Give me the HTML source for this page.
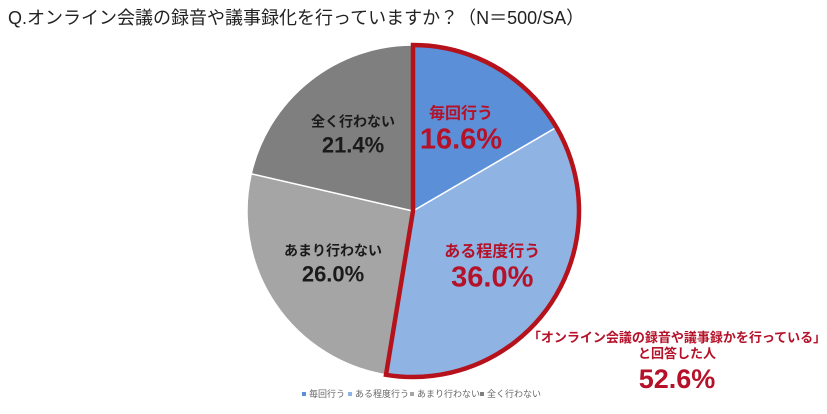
<!DOCTYPE html>
<html><head><meta charset="utf-8">
<style>
html,body{margin:0;padding:0;background:#fff;}
body{width:827px;height:409px;overflow:hidden;font-family:"Liberation Sans","Noto Sans CJK JP",sans-serif;}
</style></head>
<body>
<svg id="chart" width="827" height="409" xmlns="http://www.w3.org/2000/svg" font-family="Liberation Sans, Noto Sans CJK JP, sans-serif">
<text x="8" y="24" font-size="18" fill="#222">Q.オンライン会議の録音や議事録化を行っていますか？（N＝500/SA）</text>
<g id="slices"></g>
<g id="labels"></g>
<g font-weight="bold" text-anchor="middle" fill="#b5122a">
<text x="677" y="342" font-size="13">「オンライン会議の録音や議事録かを行っている」</text>
<text x="677" y="358" font-size="13">と回答した人</text>
<text id="callout-value" x="677" y="388" font-size="27">52.6%</text>
</g>
<g id="legend" font-size="9" fill="#666"></g>
</svg>
<script>
const categories=["毎回行う","ある程度行う","あまり行わない","全く行わない"];
const values=[16.6,36.0,26.0,21.4];
const colors=["#5b8fd8","#8fb3e2","#a5a5a5","#7f7f7f"];
const labelColors=["#b5122a","#b5122a","#1a1a1a","#1a1a1a"];
const cx=413,cy=211,r=166;
const NS="http://www.w3.org/2000/svg";
const total=values.reduce((a,b)=>a+b,0);
function pt(frac,rad){const a=frac*2*Math.PI-Math.PI/2;return [cx+rad*Math.cos(a),cy+rad*Math.sin(a)];}
function arcPath(f0,f1){const p0=pt(f0,r),p1=pt(f1,r);const large=(f1-f0)>0.5?1:0;
return `M${cx},${cy}L${p0[0]},${p0[1]}A${r},${r} 0 ${large} 1 ${p1[0]},${p1[1]}Z`;}
const sg=document.getElementById('slices'),lg=document.getElementById('labels');
let acc=0;
values.forEach((v,i)=>{
 const f0=acc/total,f1=(acc+v)/total;
 const p=document.createElementNS(NS,'path');
 p.setAttribute('d',arcPath(f0,f1));p.setAttribute('fill',colors[i]);
 p.setAttribute('stroke','#fff');p.setAttribute('stroke-width','1.5');
 
 
 sg.appendChild(p);
 const m=pt((f0+f1)/2,r*0.58);
 const big=labelColors[i]=="#b5122a";
 const t1=document.createElementNS(NS,'text');
 t1.setAttribute('x',m[0]);t1.setAttribute('y',m[1]-9);t1.setAttribute('text-anchor','middle');
 t1.setAttribute('font-size',big?'16':'14');t1.setAttribute('font-weight','bold');t1.setAttribute('fill',labelColors[i]);
 t1.textContent=categories[i];
 
 
 lg.appendChild(t1);
 const t2=document.createElementNS(NS,'text');
 t2.setAttribute('x',m[0]);t2.setAttribute('y',m[1]+(big?21:17));t2.setAttribute('text-anchor','middle');
 t2.setAttribute('font-size',big?'29':'22');t2.setAttribute('font-weight','bold');t2.setAttribute('fill',labelColors[i]);
 t2.textContent=v.toFixed(1)+'%';
 
 
 lg.appendChild(t2);
 acc+=v;
});
const hi=document.createElementNS(NS,'path');
hi.setAttribute('d',arcPath(0,(values[0]+values[1])/total));
hi.setAttribute('fill','none');hi.setAttribute('stroke','#b5121b');hi.setAttribute('stroke-width','4.5');


sg.appendChild(hi);
document.getElementById('callout-value').textContent=(values[0]+values[1]).toFixed(1)+'%';
const leg=document.getElementById('legend');
const legX=[302,348,410,480];
categories.forEach((c,i)=>{
 const s=document.createElementNS(NS,'rect');
 s.setAttribute('x',legX[i]);s.setAttribute('y',392);s.setAttribute('width',4);s.setAttribute('height',4);s.setAttribute('fill',colors[i]);
 
 
 leg.appendChild(s);
 const t=document.createElementNS(NS,'text');
 t.setAttribute('x',legX[i]+7);t.setAttribute('y',397);t.textContent=c;
 
 
 leg.appendChild(t);
});
</script>
</body></html>
